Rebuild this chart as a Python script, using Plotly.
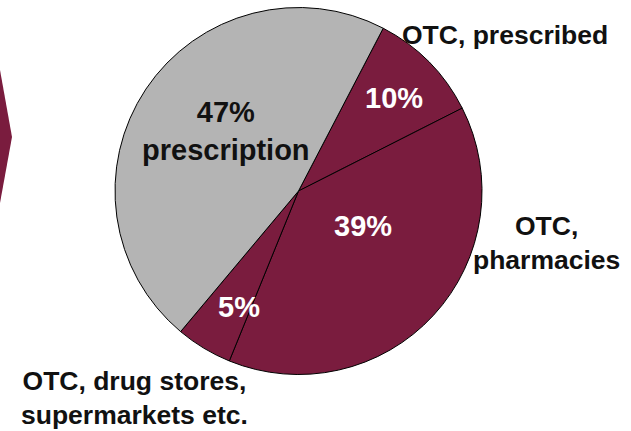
import plotly.graph_objects as go

# Slice data, clockwise from the "OTC, prescribed" slice
segments = ["OTC, prescribed", "OTC, pharmacies", "OTC, drug stores, supermarkets etc.", "prescription"]
shares   = [10, 39, 5, 47]
inner    = ["10%", "39%", "5%", "47%<br>prescription"]
outer    = ["OTC, prescribed", "OTC,<br>pharmacies", "OTC, drug stores,<br>supermarkets etc.", ""]

MAROON = "#7A1C3E"
GREY   = "#B4B4B4"
colors = [MAROON, MAROON, MAROON, GREY]

W, H = 631, 431


def px(x, y):
    """pixel position -> paper coords (margins are zero)"""
    return x / W, 1 - y / H


(dx0, dy0), (dx1, dy1) = px(115, 374.5), px(482, 7.5)

fig = go.Figure(go.Pie(
    labels     = segments,
    values     = shares,
    sort       = False,
    direction  = "clockwise",
    rotation   = 27.5,
    textinfo   = "none",
    hoverinfo  = "label+value",
    marker     = dict(colors=colors, line=dict(color="black", width=1)),
    domain     = dict(x=[dx0, dx1], y=[dy0, dy1]),
    showlegend = False,
))

inner_pos = [(394, 98), (363, 226), (239, 307), (226, 131)]
inner_col = ["white", "white", "white", "#111111"]
outer_pos = [(505, 35), (546, 243), (134, 398), None]

annotations = []
for txt, pos, col in zip(inner, inner_pos, inner_col):
    x, y = px(*pos)
    annotations.append(dict(
        text=txt, x=x, y=y, xref="paper", yref="paper", showarrow=False,
        xanchor="center", yanchor="middle",
        font=dict(family="Liberation Sans, Arial", size=29, color=col),
    ))
for txt, pos in zip(outer, outer_pos):
    if pos is None:
        continue
    x, y = px(*pos)
    annotations.append(dict(
        text=txt, x=x, y=y, xref="paper", yref="paper", showarrow=False,
        xanchor="center", yanchor="middle",
        font=dict(family="Liberation Sans, Arial", size=26.5, color="#111111"),
    ))

# bold every line
for a in annotations:
    a["text"] = "<b>" + a["text"].replace("<br>", "</b><br><b>") + "</b>"

# chevron cut off at the left edge
xl, _ = px(-30, 0)
xe, _ = px(0, 0)
xt, yt = px(12, 137)
_, ytop = px(0, 70)
_, ybot = px(0, 203)
chevron = dict(
    type="path", xref="paper", yref="paper",
    path=f"M {xl},{ytop} L {xe},{ytop} L {xt},{yt} L {xe},{ybot} L {xl},{ybot} Z",
    fillcolor=MAROON, line=dict(width=0),
)

fig.update_layout(
    width=W, height=H,
    margin=dict(l=0, r=0, t=0, b=0),
    paper_bgcolor="white",
    plot_bgcolor="white",
    annotations=annotations,
    shapes=[chevron],
)

# drop the browser's default 8px body margin so the plot sits at (0, 0)
fig.write_html(
    "out.html",
    config=dict(displayModeBar=False),
    post_script="document.body.style.margin = '0';",
)
